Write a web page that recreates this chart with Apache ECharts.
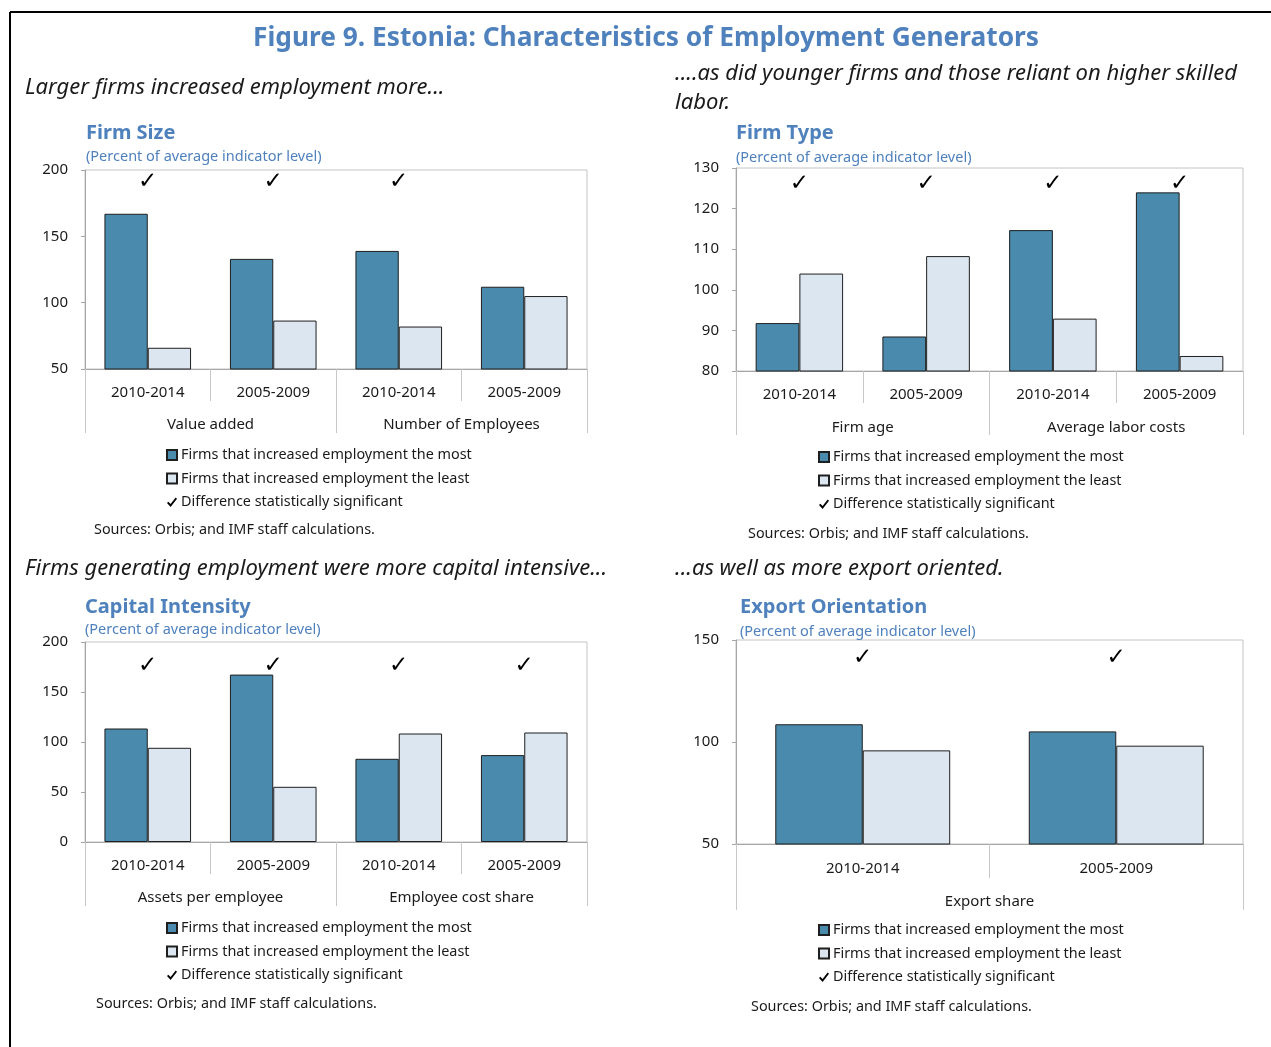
<!DOCTYPE html>
<html>
<head>
<meta charset="utf-8">
<script src="https://cdn.jsdelivr.net/npm/echarts@6/dist/echarts.min.js"></script>
<style>
  html, body { margin: 0; padding: 0; background: #fff; }
  #chart { width: 1271px; height: 1047px; }
</style>
</head>
<body>
<div id="chart"></div>
<script>
// ---- data ----
const sizeCats = ['2010-2014', '2005-2009', '2010-2014', '2005-2009'];
const sizeGroups = ['Value added', 'Number of Employees'];
const sizeMost = [167, 133, 139, 112];
const sizeLeast = [66, 86.5, 82, 105];
const sizeSig = [1, 1, 1, 0];
const sizeTicks = [50, 200, 50];

const typeCats = ['2010-2014', '2005-2009', '2010-2014', '2005-2009'];
const typeGroups = ['Firm age', 'Average labor costs'];
const typeMost = [91.8, 88.5, 114.7, 124];
const typeLeast = [104, 108.3, 92.9, 83.7];
const typeSig = [1, 1, 1, 1];
const typeTicks = [80, 130, 10];

const capCats = ['2010-2014', '2005-2009', '2010-2014', '2005-2009'];
const capGroups = ['Assets per employee', 'Employee cost share'];
const capMost = [113.5, 167.4, 83.2, 86.9];
const capLeast = [94.2, 55.2, 108.5, 109.5];
const capSig = [1, 1, 1, 1];
const capTicks = [0, 200, 50];

const expCats = ['2010-2014', '2005-2009'];
const expGroups = ['Export share'];
const expMost = [108.7, 105.2];
const expLeast = [95.9, 98.2];
const expSig = [1, 1];
const expTicks = [50, 150, 50];

// height (in axis units) at which the significance check is drawn
const checkLevels = [191, 126, 176, 141];

const NAME_MOST = 'Firms that increased employment the most';
const NAME_LEAST = 'Firms that increased employment the least';
const NAME_SIG = 'Difference statistically significant';

// ---- styling ----
const FONT = '"Noto Sans", "Open Sans", sans-serif';
const TXT = '#1a1a1a';
const BLUE = '#4F81BD';
const DARK = '#4A8BAD';
const LIGHT = '#DCE6F1';
const CHECK_PATH = 'path://M0,5.6 L1.3,4.3 L3.6,6.6 L8.7,0 L10,1.2 L3.6,9.4 Z';

const panels = [
  { cats: sizeCats, groups: sizeGroups, most: sizeMost, least: sizeLeast, sig: sizeSig, ticks: sizeTicks,
    grid: { left: 85, right: 684, top: 170, bottom: 678 }, catTick: 32, grpTick: 64, catMargin: 16, grpMargin: 48,
    legend: { left: 166, top: 448 } },
  { cats: typeCats, groups: typeGroups, most: typeMost, least: typeLeast, sig: typeSig, ticks: typeTicks,
    grid: { left: 736, right: 28, top: 168, bottom: 676 }, catTick: 32, grpTick: 64, catMargin: 16, grpMargin: 49,
    legend: { left: 818, top: 450 } },
  { cats: capCats, groups: capGroups, most: capMost, least: capLeast, sig: capSig, ticks: capTicks,
    grid: { left: 85, right: 684, top: 642, bottom: 205 }, catTick: 32, grpTick: 64, catMargin: 16, grpMargin: 48,
    legend: { left: 166, top: 921 } },
  { cats: expCats, groups: expGroups, most: expMost, least: expLeast, sig: expSig, ticks: expTicks,
    grid: { left: 736, right: 28, top: 640, bottom: 203 }, catTick: 34, grpTick: 66, catMargin: 17, grpMargin: 50,
    legend: { left: 818, top: 923 } }
];

const grids = [], xAxes = [], yAxes = [], series = [], legends = [];

panels.forEach((p, i) => {
  grids.push(Object.assign({ show: true, borderColor: '#c4c4c4', borderWidth: 1, backgroundColor: 'transparent' }, p.grid));
  xAxes.push({
    type: 'category', gridIndex: i, data: p.cats, position: 'bottom',
    axisLine: { show: true, lineStyle: { color: '#a6a6a6', width: 1 } },
    axisTick: { show: true, length: p.catTick, lineStyle: { color: '#c8c8c8' } },
    axisLabel: { margin: p.catMargin, fontSize: 15, color: TXT, fontFamily: FONT },
    splitLine: { show: false }
  });
  xAxes.push({
    type: 'category', gridIndex: i, data: p.groups, position: 'bottom',
    axisLine: { show: false },
    axisTick: { show: true, length: p.grpTick, lineStyle: { color: '#c8c8c8' } },
    axisLabel: { margin: p.grpMargin, fontSize: 15, color: TXT, fontFamily: FONT },
    splitLine: { show: false }
  });
  yAxes.push({
    type: 'value', gridIndex: i, min: p.ticks[0], max: p.ticks[1], interval: p.ticks[2],
    axisLine: { show: true, lineStyle: { color: '#a6a6a6' } },
    axisTick: { show: true, length: 4, lineStyle: { color: '#a6a6a6' } },
    axisLabel: { margin: 17, fontSize: 15, color: TXT, fontFamily: FONT },
    splitLine: { show: false }
  });
  const barCommon = {
    type: 'bar', xAxisIndex: 2 * i, yAxisIndex: i, barGap: '0%', barCategoryGap: '31%',
    silent: true, animation: false
  };
  series.push(Object.assign({}, barCommon, {
    name: NAME_MOST, data: p.most,
    itemStyle: { color: DARK, borderColor: '#1f1f1f', borderWidth: 1 }
  }));
  series.push(Object.assign({}, barCommon, {
    name: NAME_LEAST, data: p.least,
    itemStyle: { color: LIGHT, borderColor: '#1f1f1f', borderWidth: 1 }
  }));
  const checks = [];
  p.sig.forEach((s, k) => { if (s) checks.push([k, checkLevels[i]]); });
  series.push({
    type: 'custom', name: NAME_SIG, xAxisIndex: 2 * i, yAxisIndex: i, data: checks,
    itemStyle: { color: '#000' }, silent: true, animation: false,
    renderItem: (params, api) => {
      const pt = api.coord([api.value(0), api.value(1)]);
      return {
        type: 'text', x: pt[0], y: pt[1],
        style: { text: '\u2713', fill: '#000', font: 'bold 23px "DejaVu Sans"', align: 'center', verticalAlign: 'middle' }
      };
    }
  });
  legends.push({
    orient: 'vertical', left: p.legend.left, top: p.legend.top, padding: 0,
    itemWidth: 10, itemHeight: 10, itemGap: 9.6, selectedMode: false,
    textStyle: { fontSize: 14.4, color: TXT, fontFamily: FONT, padding: [0, 0, 0, -1] },
    data: [
      { name: NAME_MOST, icon: 'rect' },
      { name: NAME_LEAST, icon: 'rect' },
      { name: NAME_SIG, icon: CHECK_PATH, itemStyle: { color: '#000', borderWidth: 0 } }
    ]
  });
});

function txt(x, y, text, font, color, extra) {
  return Object.assign({ type: 'text', x: x, y: y,
    style: Object.assign({ text: text, font: font, fill: color, verticalAlign: 'middle' }, extra || {}) });
}

const italic = 'italic 22px ' + FONT;
const head = 'bold 20px ' + FONT;
const sub = '14.5px ' + FONT;
const src = '14.4px ' + FONT;

const graphics = [
  { type: 'line', shape: { x1: 10, y1: 12, x2: 1271, y2: 12 }, style: { stroke: '#000', lineWidth: 2 } },
  { type: 'line', shape: { x1: 10, y1: 12, x2: 10, y2: 1047 }, style: { stroke: '#000', lineWidth: 2 } },
  txt(646, 39, 'Figure 9. Estonia: Characteristics of Employment Generators', 'bold 26.3px ' + FONT, BLUE, { align: 'center' }),

  txt(25, 88, 'Larger firms increased employment more...', italic, TXT),
  txt(86, 133, 'Firm Size', head, BLUE),
  txt(86, 157, '(Percent of average indicator level)', sub, BLUE),
  txt(94, 530, 'Sources: Orbis; and IMF staff calculations.', src, TXT),

  txt(675, 74, '....as did younger firms and those reliant on higher skilled', italic, TXT),
  txt(675, 103, 'labor.', italic, TXT),
  txt(736, 133, 'Firm Type', head, BLUE),
  txt(736, 158, '(Percent of average indicator level)', sub, BLUE),
  txt(748, 534, 'Sources: Orbis; and IMF staff calculations.', src, TXT),

  txt(25, 569, 'Firms generating employment were more capital intensive...', italic, TXT),
  txt(85, 607, 'Capital Intensity', head, BLUE),
  txt(85, 630, '(Percent of average indicator level)', sub, BLUE),
  txt(96, 1004, 'Sources: Orbis; and IMF staff calculations.', src, TXT),

  txt(675, 569, '...as well as more export oriented.', italic, TXT),
  txt(740, 607, 'Export Orientation', head, BLUE),
  txt(740, 632, '(Percent of average indicator level)', sub, BLUE),
  txt(751, 1007, 'Sources: Orbis; and IMF staff calculations.', src, TXT)
];

const chart = echarts.init(document.getElementById('chart'), null, { renderer: 'canvas' });
chart.setOption({
  animation: false,
  backgroundColor: '#fff',
  grid: grids,
  xAxis: xAxes,
  yAxis: yAxes,
  legend: legends,
  series: series,
  graphic: graphics
});
</script>
</body>
</html>
